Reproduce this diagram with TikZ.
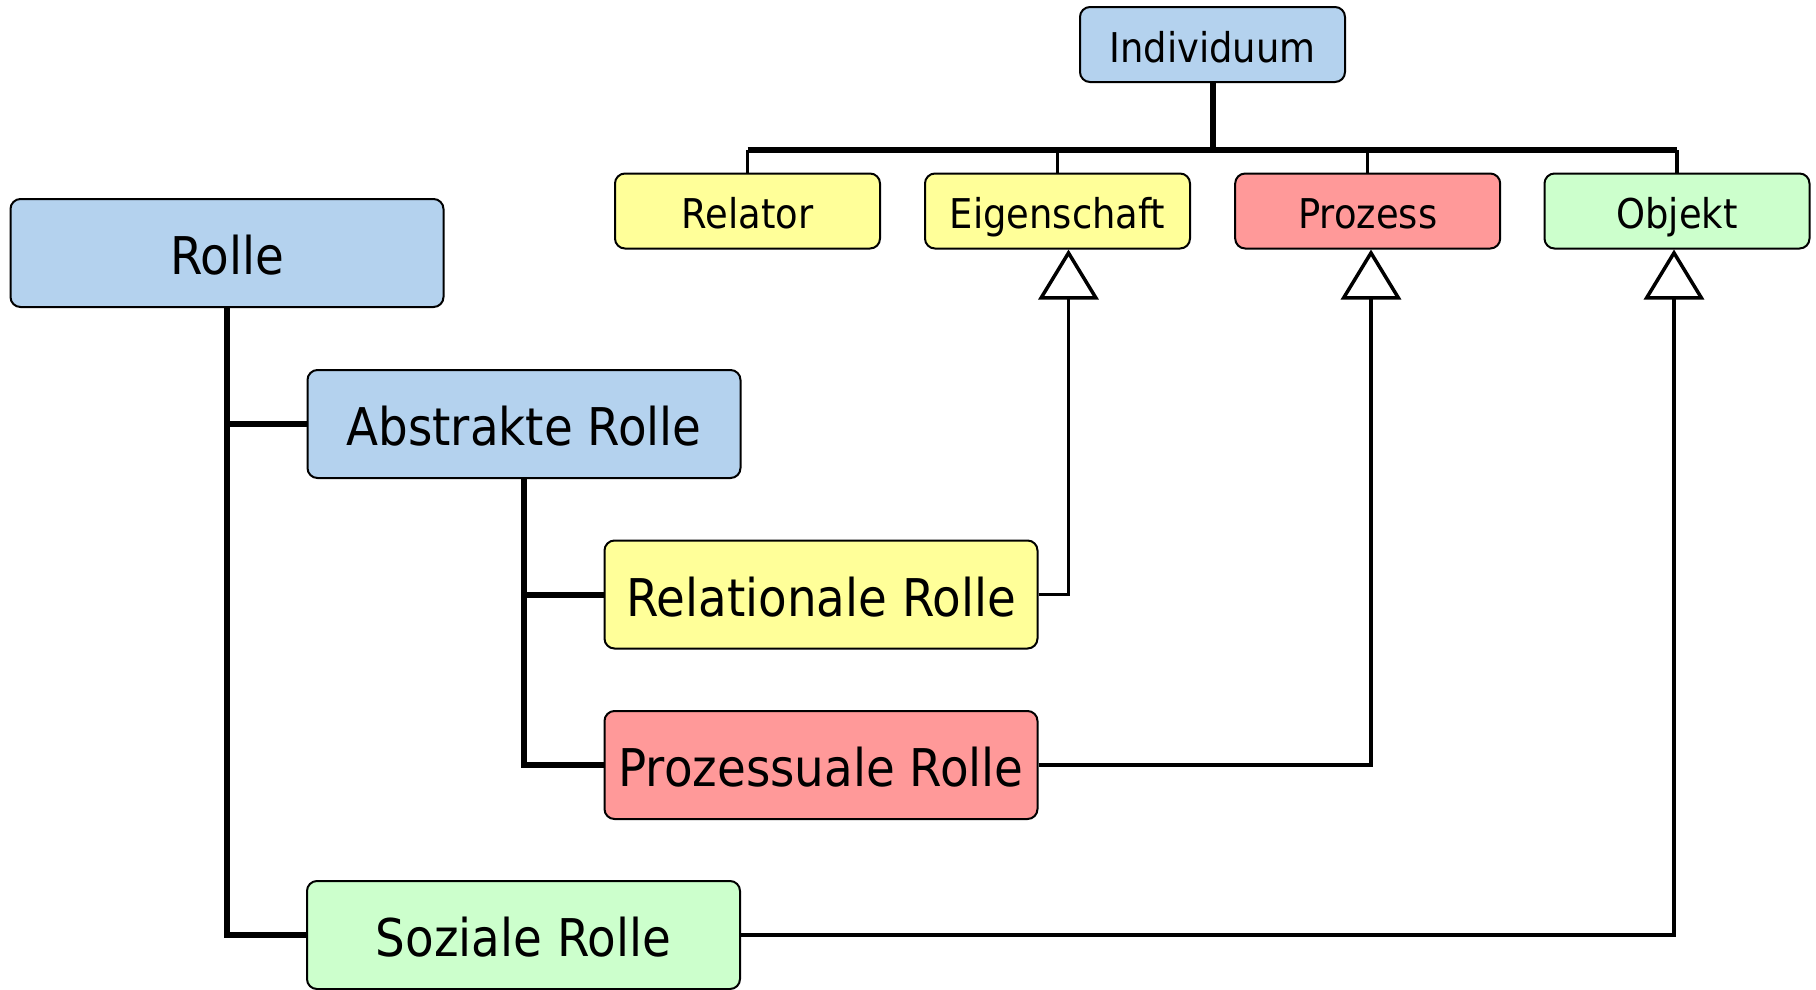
\documentclass[tikz,border=0pt]{standalone}
\usepackage{fontspec}
\setmainfont{DejaVu Sans}[FakeStretch=0.9]
\usetikzlibrary{arrows.meta}
\definecolor{cblue}{RGB}{180,210,238}
\definecolor{cyellow}{RGB}{255,255,153}
\definecolor{cred}{RGB}{255,153,153}
\definecolor{cgreen}{RGB}{204,255,204}
\begin{document}
\begin{tikzpicture}[x=1pt,y=-1pt,
  box/.style={draw=black, line width=2pt, rounded corners=10pt, inner sep=0pt, align=center},
  small/.style={box, minimum width=265pt, minimum height=75pt, font=\fontsize{41}{48}\selectfont,
                text height=35pt, text depth=0pt},
  big/.style={box, minimum width=433pt, minimum height=108pt, font=\fontsize{52}{60}\selectfont,
              text height=43pt, text depth=0pt},
  tree/.style={line width=6pt},
  drop/.style={line width=3.5pt},
  gen/.style={line width=3.5pt, -{Triangle[open, length=50pt, width=60pt, fill=white]}},
]
\useasboundingbox (0,0) rectangle (1816,989);

% top hierarchy
\node[small, fill=cblue]   (ind)  at (1212.5,44.5) {Individuum};
\node[small, fill=cyellow] (rlt)  at (747.5,211)   {Relator};
\node[small, fill=cyellow] (eig)  at (1057.5,211)  {Eigenschaft};
\node[small, fill=cred]    (proz) at (1367.7,211)  {Prozess};
\node[small, fill=cgreen]  (obj)  at (1677,211)    {Objekt};

% left hierarchy
\node[big, fill=cblue]   (rolle) at (227,253)   {Rolle};
\node[big, fill=cblue]   (abs)   at (524,424)   {Abstrakte Rolle};
\node[big, fill=cyellow] (relr)  at (821,594.5) {Relationale Rolle};
\node[big, fill=cred]    (prr)   at (821,765)   {Prozessuale Rolle};
\node[big, fill=cgreen]  (soz)   at (523.5,935) {Soziale Rolle};

% bus of the top tree
\coordinate (busy) at (0,149.5);
\draw[drop] (rlt.north)  -- (rlt.north |- busy);
\draw[drop] (eig.north)  -- (eig.north |- busy);
\draw[drop] (proz.north) -- (proz.north |- busy);
\draw[drop] (obj.north)  -- (obj.north |- busy);
\draw[tree] (rlt.north |- busy) -- (obj.north |- busy);
\draw[tree] (ind.south) -- (ind.south |- busy);

% left tree
\draw[tree] (rolle.south) |- (abs.west);
\draw[tree] (rolle.south) |- (soz.west);
\draw[tree] (abs.south) |- (relr.west);
\draw[tree] (abs.south) |- (prr.west);

% generalisations
\coordinate (ge) at (1068.5,0);
\coordinate (gp) at (1371,0);
\coordinate (go) at (1674,0);
\draw[gen] (relr.east) -| (ge |- eig.south);
\draw[gen] (prr.east)  -| (gp |- proz.south);
\draw[gen] (soz.east)  -| (go |- obj.south);
\end{tikzpicture}
\end{document}
